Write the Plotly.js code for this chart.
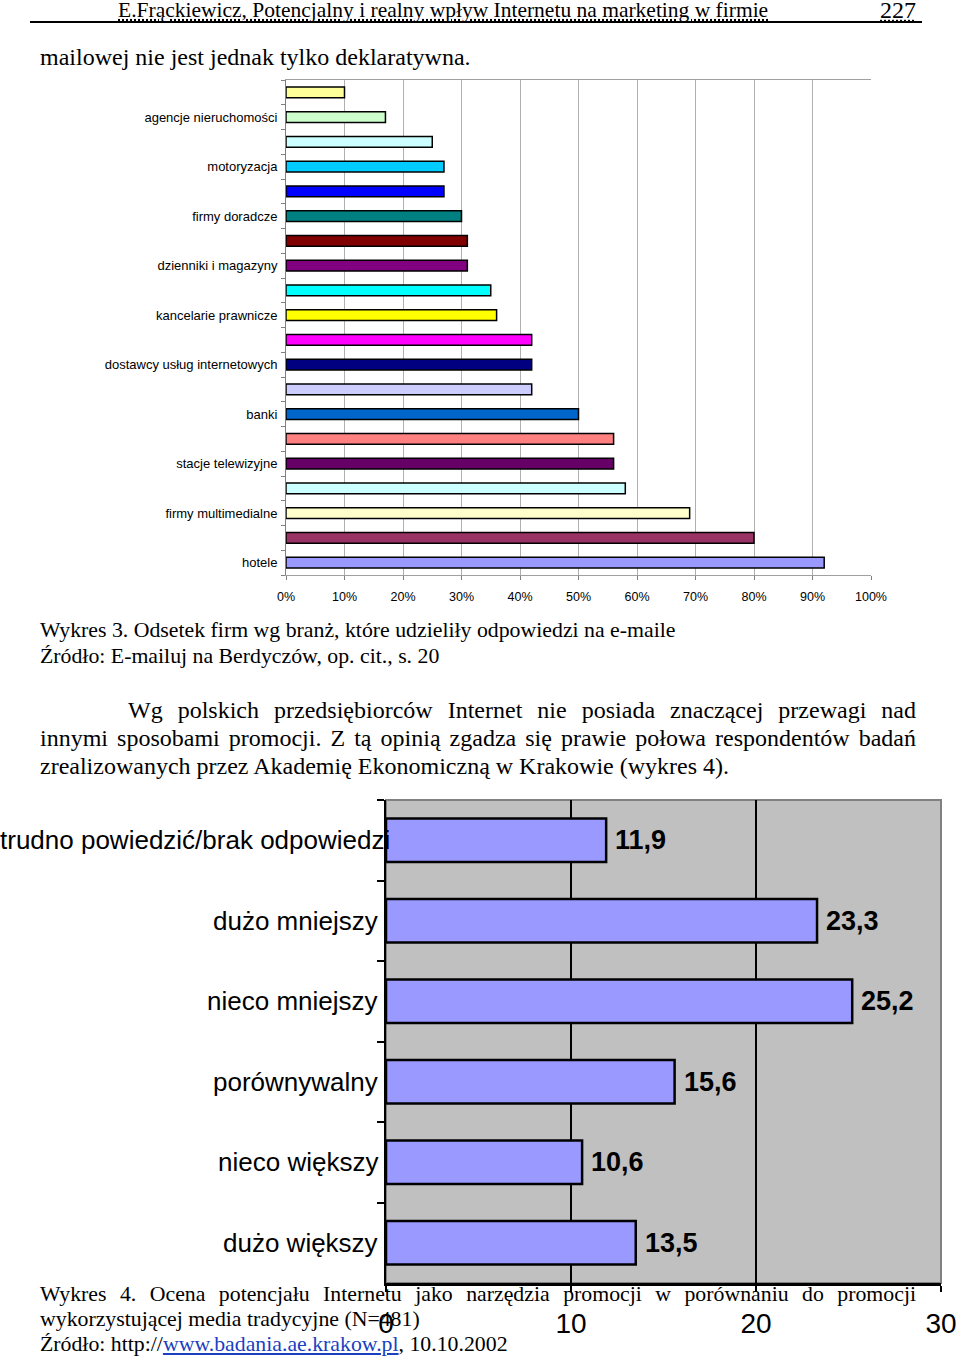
<!DOCTYPE html>
<html><head><meta charset="utf-8">
<script src="https://cdn.plot.ly/plotly-3.0.1.min.js"></script>
<style>
html,body{margin:0;padding:0;background:#fff;}
#page{position:relative;width:960px;height:1364px;overflow:hidden;font-family:"Liberation Serif","Times New Roman",serif;color:#000;}
.t{position:absolute;white-space:nowrap;}
.j{text-align:justify;text-align-last:justify;white-space:normal;}
.c{font-size:21.8px;line-height:26px;height:26px;}
.b{font-size:24px;line-height:28px;height:28px;}
#c1,#c2{position:absolute;left:0;}
#c1{top:70px;width:960px;height:550px;}
#c2{top:790px;width:960px;height:574px;}
a{color:#1a3fc0;text-decoration:underline;}
</style></head>
<body><div id="page">
<div class="t" style="left:118px;top:-2px;font-size:21.5px;line-height:24px;text-decoration:underline dotted;">E.Frąckiewicz, Potencjalny i realny wpływ Internetu na marketing w firmie</div>
<div class="t" style="left:880px;top:-3px;font-size:24px;line-height:26px;text-decoration:underline dotted;">227</div>
<div style="position:absolute;left:30px;top:21px;width:892px;height:2px;background:#000;"></div>
<div class="t b" style="left:40px;top:43px;">mailowej nie jest jednak tylko deklaratywna.</div>
<div class="t c" style="left:40px;top:617px;">Wykres 3. Odsetek firm wg branż, które udzieliły odpowiedzi na e-maile</div>
<div class="t c" style="left:40px;top:643px;">Źródło: E-mailuj na Berdyczów, op. cit., s. 20</div>
<div class="t b j" style="left:128px;top:696px;width:788px;">Wg polskich przedsiębiorców Internet nie posiada znaczącej przewagi nad</div>
<div class="t b j" style="left:40px;top:724px;width:876px;">innymi sposobami promocji. Z tą opinią zgadza się prawie połowa respondentów badań</div>
<div class="t b" style="left:40px;top:752px;">zrealizowanych przez Akademię Ekonomiczną w Krakowie (wykres 4).</div>
<div class="t c j" style="left:40px;top:1281px;width:876px;">Wykres 4. Ocena potencjału Internetu jako narzędzia promocji w porównaniu do promocji</div>
<div class="t c" style="left:40px;top:1306px;">wykorzystującej media tradycyjne (N=481)</div>
<div class="t c" style="left:40px;top:1331px;">Źródło: http://<a>www.badania.ae.krakow.pl</a>, 10.10.2002</div>
<div id="c1"></div>
<div id="c2"></div>
</div>
<script>
// ---- Wykres 3 data ----
const topLabels = ["", "agencje nieruchomości", "", "motoryzacja", "", "firmy doradcze", "", "dzienniki i magazyny", "", "kancelarie prawnicze", "", "dostawcy usług internetowych", "", "banki", "", "stacje telewizyjne", "", "firmy multimedialne", "", "hotele"];
const topValues = [10, 17, 25, 27, 27, 30, 31, 31, 35, 36, 42, 42, 42, 50, 56, 56, 58, 69, 80, 92];
const topColors = ["#FFFF99", "#CCFFCC", "#CCFFFF", "#00CCFF", "#0000FF", "#008080", "#800000", "#800080", "#00FFFF", "#FFFF00", "#FF00FF", "#000080", "#CCCCFF", "#0066CC", "#FF8080", "#660066", "#CCFFFF", "#FFFFCC", "#993366", "#9999FF"];
const topTicks = [0, 10, 20, 30, 40, 50, 60, 70, 80, 90, 100];

// ---- Wykres 4 data ----
const bottomCategories = ["trudno powiedzić/brak odpowiedzi", "dużo mniejszy", "nieco mniejszy", "porównywalny", "nieco większy", "dużo większy"];
const bottomValues = [11.9, 23.3, 25.2, 15.6, 10.6, 13.5];
const bottomTicks = [0, 10, 20, 30];

const sans = '"Liberation Sans", Arial, sans-serif';
const idx = topValues.map((v, i) => i);
const labIdx = idx.filter(i => topLabels[i] !== "");

Plotly.newPlot('c1', [{
  type: 'bar', orientation: 'h', x: topValues, y: idx,
  marker: {color: topColors, line: {color: '#000', width: 1.5}},
  hoverinfo: 'none'
}], {
  width: 960, height: 550, margin: {l: 286, r: 89, t: 10, b: 45},
  paper_bgcolor: 'rgba(0,0,0,0)', plot_bgcolor: '#fff', showlegend: false,
  bargap: 0.56,
  font: {family: sans, size: 13, color: '#000'},
  xaxis: {range: [0, 100], tickvals: topTicks, ticktext: topTicks.map(v => v + '%'),
    showgrid: true, gridcolor: '#b0b0b0', gridwidth: 1, zeroline: false,
    showline: true, mirror: true, linecolor: '#a0a0a0', linewidth: 1,
    ticks: 'outside', ticklen: 4, tickcolor: '#808080', tickfont: {size: 12.5}, ticklabelstandoff: 6},
  yaxis: {range: [19.5, -0.5], tickvals: labIdx, ticktext: labIdx.map(i => topLabels[i]),
    ticks: '', showgrid: false, zeroline: false, showline: true, linecolor: '#808080', linewidth: 1,
    tickfont: {size: 13}, ticklabelstandoff: 5,
    minor: {tickmode: 'linear', tick0: 0.5, dtick: 1, ticks: 'outside', ticklen: 4, tickcolor: '#808080', showgrid: false}}
}, {displayModeBar: false, staticPlot: true});

const plotW2 = 960 - 386 - 19;
const ann2 = [];
bottomCategories.forEach((c, i) => {
  const wide = c.length > 20;
  ann2.push({xref: 'paper', yref: 'y', x: wide ? -386 / plotW2 : 0, y: c, text: c,
    xanchor: wide ? 'left' : 'right', xshift: wide ? -2 : -6, showarrow: false,
    font: {family: sans, size: 26, color: '#000'}});
  ann2.push({xref: 'x', yref: 'y', x: bottomValues[i], y: c,
    text: bottomValues[i].toFixed(1).replace('.', ','), xanchor: 'left', xshift: 7, showarrow: false,
    font: {family: sans, size: 27, color: '#000', weight: 'bold'}});
});

Plotly.newPlot('c2', [{
  type: 'bar', orientation: 'h', x: bottomValues, y: bottomCategories,
  marker: {color: '#9999FF', line: {color: '#000', width: 2.5}},
  hoverinfo: 'none'
}], {
  width: 960, height: 574, margin: {l: 386, r: 19, t: 10, b: 81},
  paper_bgcolor: 'rgba(0,0,0,0)', plot_bgcolor: '#C0C0C0', showlegend: false,
  bargap: 0.46,
  font: {family: sans, size: 26, color: '#000'},
  shapes: [{type: 'rect', xref: 'paper', yref: 'paper', x0: 0, x1: 1, y0: 0, y1: 1,
    line: {color: '#808080', width: 2}, layer: 'below'}],
  annotations: ann2,
  xaxis: {range: [0, 30], tickvals: bottomTicks, showgrid: true, gridcolor: '#000', gridwidth: 1.5,
    zeroline: false, showline: true, linecolor: '#000', linewidth: 2.5,
    ticks: 'outside', ticklen: 6, tickwidth: 2, tickcolor: '#000', tickfont: {size: 28}, ticklabelstandoff: 8},
  yaxis: {type: 'category', autorange: 'reversed', tickson: 'boundaries', ticks: 'outside', ticklen: 7,
    tickwidth: 2, tickcolor: '#000', showticklabels: false, showgrid: false, zeroline: false,
    showline: true, linecolor: '#000', linewidth: 2.5}
}, {displayModeBar: false, staticPlot: true});
</script>
</body></html>
